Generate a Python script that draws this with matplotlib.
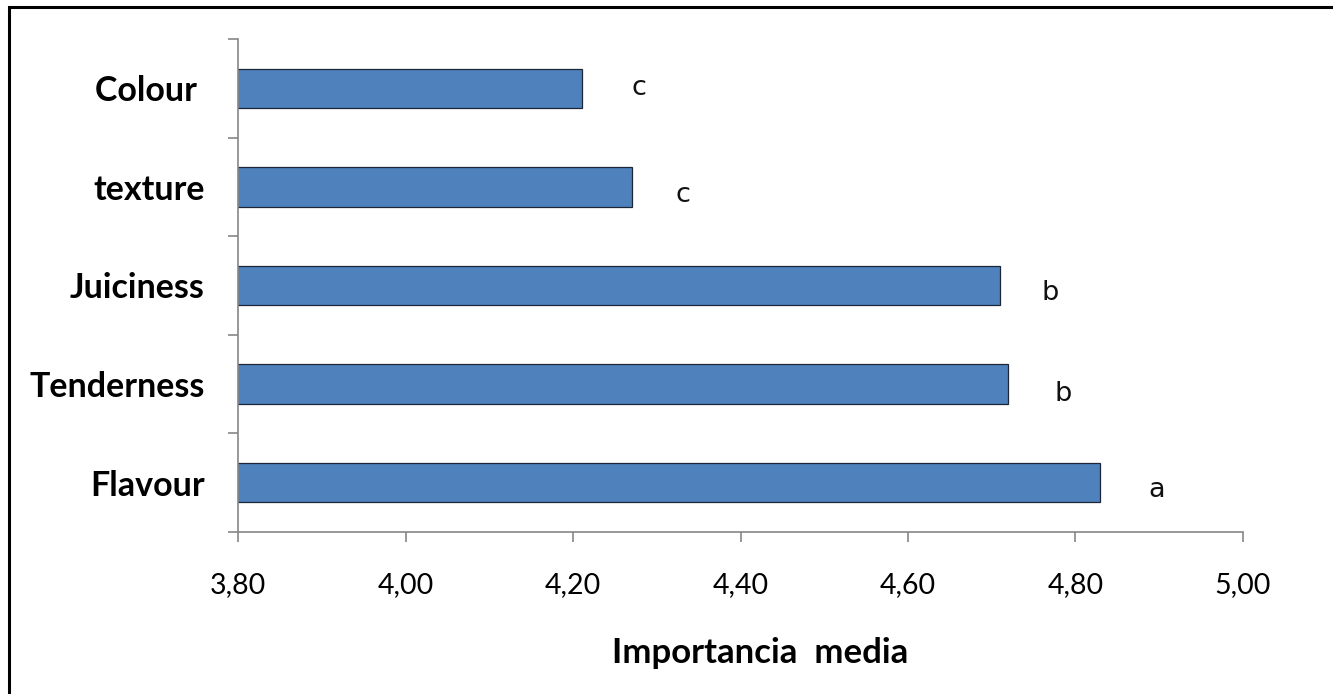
import numpy as np
import matplotlib
matplotlib.use("Agg")
import matplotlib.pyplot as plt
from matplotlib.ticker import FixedLocator, FuncFormatter
from matplotlib.patches import Rectangle

# attributes listed bottom to top, as they appear on the y axis
attributes = ['Flavour', 'Tenderness', 'Juiciness', 'texture', 'Colour ']
mean_importance = [4.83, 4.72, 4.71, 4.27, 4.21]
groups = ['a', 'b', 'b', 'c', 'c']
x_ticks = [3.80, 4.00, 4.20, 4.40, 4.60, 4.80, 5.00]

# small nudges (pixels) for the significance letters: right of bar end, below bar centre
letter_dx = [48, 46, 41, 44, 50]
letter_dy = [14, 17, 14, 15, 7]

DPI = 100
fig = plt.figure(figsize=(13.33, 6.94), dpi=DPI)
ax = fig.add_axes([238.3 / 1333, 1 - 532 / 694, (1242.8 - 238.3) / 1333, (532 - 39) / 694])

ypos = np.arange(len(attributes))
ax.barh(ypos, mean_importance, height=0.4, left=0, color='#4f81bd',
        edgecolor='#1c2636', linewidth=0.9, zorder=2)

ax.set_xlim(3.80, 5.00)
ax.set_ylim(-0.5, len(attributes) - 0.5)

grey = '#868686'
for side in ['top', 'right']:
    ax.spines[side].set_visible(False)
for side in ['left', 'bottom']:
    ax.spines[side].set_color(grey)
    ax.spines[side].set_linewidth(1.2)

# x axis: ticks pointing down, comma decimals
ax.xaxis.set_major_locator(FixedLocator(x_ticks))
ax.xaxis.set_major_formatter(FuncFormatter(lambda v, p: f"{v:.2f}".replace('.', ',')))
ax.tick_params(axis='x', direction='out', length=7.5, width=1.2, color=grey,
               pad=21, labelsize=20.5, labelcolor='black')
for lab in ax.get_xticklabels():
    lab.set_fontfamily('Lato')

# y axis: tick marks between categories, labels centred on bars
ax.yaxis.set_major_locator(FixedLocator(np.arange(-0.5, len(attributes), 1.0)))
ax.yaxis.set_major_formatter(FuncFormatter(lambda v, p: ''))
ax.yaxis.set_minor_locator(FixedLocator(ypos))
ax.set_yticklabels(attributes, minor=True, fontfamily='Lato', fontweight='bold',
                   fontsize=24.5)
ax.tick_params(axis='y', which='major', direction='out', length=7.5, width=1.2, color=grey)
ax.tick_params(axis='y', which='minor', length=0, pad=24)

# significance letters
for y, v, g, dx, dy in zip(ypos, mean_importance, groups, letter_dx, letter_dy):
    ax.annotate(g, xy=(v, y), xytext=(dx * 72 / DPI, -dy * 72 / DPI),
                textcoords='offset points', ha='left', va='baseline',
                fontfamily='DejaVu Sans', fontsize=19.5, color='#111111')

fig.text(760 / 1333, 1 - 663 / 694, 'Importancia  media', ha='center', va='baseline',
         fontfamily='Lato', fontweight='bold', fontsize=25)

# outer frame (only the top and left edges fall inside the canvas)
fig.patches.append(Rectangle((8.5 / 1333, -0.1), 1.2, 1 - 7.5 / 694 + 0.1,
                             transform=fig.transFigure, fill=False,
                             edgecolor='black', linewidth=2.2))

fig.savefig('out.png', dpi=DPI, facecolor='white')
